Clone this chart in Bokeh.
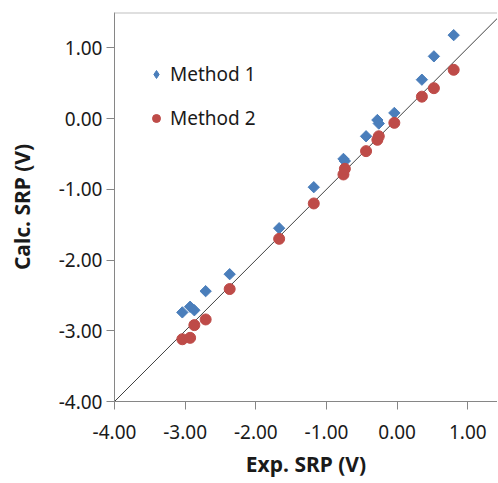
import math
from bokeh.plotting import figure
from bokeh.models import (Range1d, FixedTicker, NumeralTickFormatter, Legend,
                          LegendItem, Span, ColumnDataSource)
from bokeh.embed import file_html
from bokeh.resources import INLINE

# Data
exp_srp = [-3.04, -2.93, -2.87, -2.71, -2.37, -1.67, -1.18, -0.76, -0.74,
           -0.44, -0.28, -0.26, -0.04, 0.35, 0.52, 0.80]
method1 = [-2.74, -2.66, -2.71, -2.44, -2.20, -1.55, -0.97, -0.57, -0.60,
           -0.25, -0.02, -0.07, 0.08, 0.55, 0.88, 1.18]
method2 = [-3.12, -3.10, -2.92, -2.84, -2.41, -1.70, -1.20, -0.79, -0.71,
           -0.46, -0.30, -0.25, -0.06, 0.31, 0.43, 0.69]
ticks = [-4, -3, -2, -1, 0, 1]
diag = [-4.0, 1.5]

FONT = "Noto Sans"
AXIS_COL = "#868686"
BLUE = "#4a7ebb"
RED = "#be4b48"
TXT = "#1a1a1a"

p = figure(width=497, height=482, output_backend="svg", toolbar_location=None,
           x_range=Range1d(-4.0, 1.42), y_range=Range1d(-4.0, 1.5),
           min_border_left=114, min_border_right=0, min_border_top=12,
           min_border_bottom=81)
p.outline_line_color = None
p.grid.visible = False
p.background_fill_color = "white"
p.border_fill_color = "white"

# top border of plot area
p.add_layout(Span(location=1.5, dimension="width", line_color="#c0c0c0",
                  line_width=2))

# y = x reference line
p.line(diag, diag, line_color="#404040", line_width=1)

src1 = ColumnDataSource(dict(x=exp_srp, y=method1))
src2 = ColumnDataSource(dict(x=exp_srp, y=method2))
r1 = p.scatter("x", "y", source=src1, marker="square", size=8,
               angle=math.pi / 4, fill_color=BLUE, line_color=BLUE)
r2 = p.scatter("x", "y", source=src2, marker="circle", size=11,
               fill_color=RED, line_color=RED)
# legend-only glyph (legend ignores marker angle); size 0 so it draws nothing
leg1 = p.scatter("x", "y", source=src1, marker="diamond", size=0,
                 fill_color=BLUE, line_color=BLUE)

for ax in (p.xaxis[0], p.yaxis[0]):
    ax.ticker = FixedTicker(ticks=ticks)
    ax.formatter = NumeralTickFormatter(format="0.00")
    ax.axis_line_color = AXIS_COL
    ax.major_tick_line_color = AXIS_COL
    ax.minor_tick_line_color = None
    ax.major_tick_in = 0
    ax.major_tick_out = 8
    ax.major_label_text_font = FONT
    ax.major_label_text_font_size = "19px"
    ax.major_label_text_color = TXT
    ax.axis_label_text_font = FONT
    ax.axis_label_text_font_size = "21px"
    ax.axis_label_text_font_style = "bold"
    ax.axis_label_text_color = TXT

p.xaxis[0].axis_label = "Exp. SRP (V)"
p.yaxis[0].axis_label = "Calc. SRP (V)"
p.xaxis[0].major_label_standoff = 15
p.yaxis[0].major_label_standoff = 4
p.xaxis[0].axis_label_standoff = 8
p.yaxis[0].axis_label_standoff = 20

legend = Legend(items=[LegendItem(label="Method 1", renderers=[leg1]),
                       LegendItem(label="Method 2", renderers=[r2])],
                location=(32, 270), padding=0, spacing=18,
                glyph_width=20, glyph_height=26, label_height=26,
                label_standoff=4, border_line_color=None,
                background_fill_alpha=0, label_text_font=FONT,
                label_text_font_size="19px", label_text_color=TXT)
p.add_layout(legend)

open("out.html", "w").write(file_html(p, INLINE))
